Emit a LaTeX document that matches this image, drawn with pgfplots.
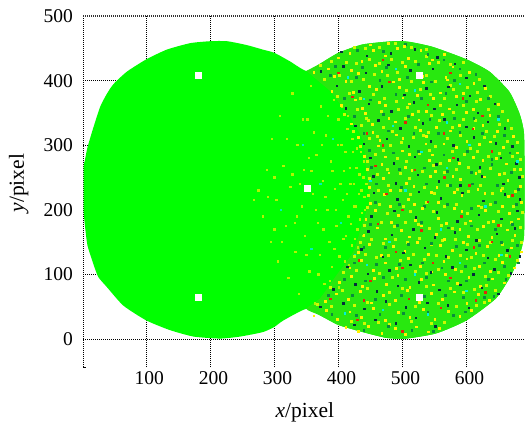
\documentclass[border=0pt]{standalone}
\usepackage{pgfplots}
\pgfplotsset{compat=1.18}
\usepackage{fontspec}
\setmainfont{Liberation Serif}
\definecolor{basegreen}{RGB}{0,255,0}
\definecolor{mixgreen}{RGB}{40,232,15}
\definecolor{sparsey}{RGB}{175,245,0}
\definecolor{sparsec}{RGB}{0,240,190}
\definecolor{darksp}{RGB}{5,45,60}
\definecolor{midsp}{RGB}{10,140,60}
\definecolor{limesp}{RGB}{205,250,0}
\definecolor{redsp}{RGB}{225,40,10}
\definecolor{cyansp}{RGB}{0,240,220}
\pgfplotsset{speck/.style 2 args={only marks,color=#1,mark=square*,mark size=#2,mark options={solid,draw=#1,fill=#1,line width=0pt}}}
\begin{document}
\begin{tikzpicture}
\path[use as bounding box] (0,0) rectangle (526pt,425pt);
\begin{axis}[at={(83pt,58pt)},anchor=south west,scale only axis,width=441pt,height=351pt,
 xmin=1,xmax=690,ymin=-43,ymax=500,clip=false,
 xtick={100,200,300,400,500,600},ytick={0,100,200,300,400,500},
 tick style={draw=none},grid=major,
 major grid style={black,line width=0.6pt,dash pattern=on 0.9pt off 1.1pt},
 axis line style={draw=none},
 /pgf/number format/assume math mode=true,
 tick label style={font=\fontsize{19.5}{20}\selectfont},
 xticklabel style={inner sep=0pt,xshift=3pt,yshift=-4pt},
 yticklabel style={inner sep=0pt,xshift=-10pt},
 xlabel={\textit{x}/pixel},ylabel={\textit{y}/pixel},
 label style={font=\fontsize{21.5}{22}\selectfont},
 xlabel style={at={(axis description cs:0.503,-0.128)},anchor=center},
 ylabel style={at={(axis description cs:-0.146,0.524)},anchor=center},
]
\addplot[black,line width=0.7pt,dash pattern=on 1pt off 1pt] coordinates {(1,-43)(1,500)};
\addplot[black!80,line width=1.2pt,dash pattern=on 1pt off 1pt] coordinates {(1,500)(690,500)};
\addplot[black,line width=0.8pt] coordinates {(1,-43)(6,-43)};
% whole outline
\addplot[fill=basegreen,draw=none,smooth,tension=0.35] coordinates {(2,230)(2,267)(4,277)(8.3,298)(17.7,329)(28,360)(38.5,380)(48.9,395)(69.7,414)(100,433)(132,448)(168.5,458)(200,461)(226,461)(257,455)(282,448)(300,443)(324,430)(350,415)(371,426)(400,443)(438,456)(485,461)(511,460)(548,452)(600,433)(636,414)(667,383)(683,349)(690,318)(691,240)(690,160)(683,130)(670,99)(646,63)(600,29)(553,9)(506,1)(475,2)(438,11)(400,22)(371,37)(350,47)(314,29)(300,19)(282,11)(246,4)(215,1)(174,4)(137,14)(100,29)(64,52)(38,81)(25,96)(18,114)(8,145)(4,176)(2,197)} --cycle;
% dense part of the right disc
\addplot[fill=mixgreen,draw=none,smooth,tension=0.35] coordinates {(350,415)(371,426)(400,443)(438,456)(485,461)(511,460)(548,452)(600,433)(636,414)(667,383)(683,349)(690,318)(691,240)(690,160)(683,130)(670,99)(646,63)(600,29)(553,9)(506,1)(475,2)(438,11)(400,22)(371,37)(350,47)(371,63)(397,99)(423,135)(438,181)(448,215)(443,267)(438,308)(418,344)(386,385)} --cycle;
% sparse specks, overlap
\addplot[speck={sparsey}{0.7pt}] table[row sep=\\] {x y\\
275 230\\282 190\\288 262\\295 150\\296 310\\303 215\\306 120\\309 345\\314 268\\318 175\\322 95\\325 235\\328 380\\333 135\\336 300\\338 70\\343 205\\346 262\\348 160\\352 340\\355 105\\357 392\\360 225\\363 55\\366 285\\368 180\\371 130\\373 360\\376 245\\378 85\\381 315\\383 200\\386 150\\388 275\\390 112\\393 370\\395 232\\397 175\\400 340\\402 128\\405 300\\407 215\\409 260\\412 160\\414 325\\416 190\\419 240\\421 145\\423 290\\425 205\\428 265\\430 170\\432 225\\435 290\\437 195\\439 250\\441 220\\
332 180\\340 240\\350 130\\354 280\\362 320\\365 200\\369 100\\374 300\\377 170\\380 220\\384 345\\387 90\\391 260\\394 140\\396 200\\399 300\\401 80\\403 240\\406 360\\408 155\\410 120\\411 290\\413 225\\415 345\\417 115\\418 265\\420 178\\422 310\\424 240\\426 155\\427 205\\429 295\\431 142\\433 255\\434 185\\436 230\\438 160\\440 275\\442 200\\444 240\\300 250\\312 150\\320 310\\328 255\\335 190\\345 340\\290 220\\268 215\\300 170\\358 260\\};
\addplot[speck={sparsec}{0.6pt}] table[row sep=\\] {x y\\
310 200\\345 300\\358 140\\372 240\\392 310\\404 180\\426 130\\};
% lime
\addplot[speck={limesp}{1pt}] table[row sep=\\] {x y\\
420 27\\441 24\\463 26\\480 22\\515 27\\546 24\\565 26\\
368 54\\390 50\\425 52\\446 57\\480 53\\520 51\\557 55\\585 50\\615 52\\628 57\\
388 80\\407 76\\445 79\\480 72\\500 78\\537 81\\575 79\\596 72\\612 77\\632 83\\645 76\\
408 103\\428 106\\465 102\\485 95\\520 104\\538 101\\557 108\\592 105\\612 109\\630 97\\650 103\\665 99\\
425 128\\443 131\\460 126\\478 130\\497 122\\517 131\\535 124\\553 129\\572 126\\590 130\\608 126\\626 130\\645 124\\662 130\\680 122\\
434 150\\452 154\\470 148\\490 155\\508 150\\527 156\\546 147\\563 152\\583 155\\601 146\\620 152\\637 150\\656 146\\672 152\\686 150\\
441 176\\467 180\\487 174\\505 181\\525 178\\543 172\\561 176\\578 171\\598 179\\617 170\\635 181\\653 176\\670 180\\685 173\\
446 203\\465 208\\477 195\\501 205\\513 197\\537 212\\549 198\\565 205\\585 208\\601 195\\623 204\\637 209\\650 198\\673 205\\687 196\\
447 222\\462 230\\478 238\\497 230\\513 224\\535 235\\550 226\\570 238\\586 232\\604 228\\622 238\\640 226\\657 233\\676 228\\
448 248\\461 255\\476 263\\497 256\\511 248\\531 260\\548 268\\565 258\\584 262\\603 265\\620 260\\637 264\\660 256\\675 262\\688 252\\
445 275\\458 285\\471 292\\492 280\\507 275\\527 288\\543 292\\560 272\\578 290\\597 286\\617 290\\634 283\\652 288\\672 282\\685 278\\
435 298\\448 310\\461 313\\482 300\\498 305\\518 312\\533 315\\551 298\\570 310\\590 315\\606 295\\629 312\\644 314\\664 306\\680 305\\
424 322\\436 330\\447 338\\470 328\\485 322\\505 342\\521 328\\540 320\\558 338\\578 328\\595 340\\614 338\\631 322\\652 332\\670 326\\
410 348\\430 355\\444 342\\468 352\\494 356\\508 358\\525 352\\545 346\\560 362\\580 350\\595 362\\616 368\\634 356\\656 352\\
398 375\\417 380\\435 372\\455 378\\472 372\\491 368\\507 384\\528 386\\544 378\\565 372\\580 386\\602 390\\618 382\\638 376\\
378 402\\402 408\\420 398\\440 402\\456 410\\477 408\\492 412\\515 398\\538 408\\552 398\\575 392\\590 408\\620 402\\
372 424\\390 430\\412 428\\428 426\\448 432\\465 426\\483 432\\500 428\\520 430\\537 438\\557 428\\575 425\\595 428\\
425 452\\442 450\\465 452\\490 458\\515 452\\537 448\\};
% mid green
\addplot[speck={midsp}{0.9pt}] table[row sep=\\] {x y\\
440 14\\478 20\\515 14\\548 12\\
390 38\\428 37\\465 38\\502 40\\540 42\\580 37\\598 42\\
385 68\\422 68\\458 62\\498 67\\534 66\\567 68\\596 64\\628 65\\643 66\\
410 92\\442 90\\470 95\\505 92\\538 95\\572 90\\600 90\\634 92\\662 92\\
425 118\\460 115\\495 115\\532 118\\562 110\\598 112\\628 118\\660 112\\682 118\\
440 142\\474 142\\510 146\\545 148\\585 143\\620 145\\655 150\\680 145\\
450 178\\492 176\\530 180\\572 172\\608 175\\645 170\\672 178\\
458 212\\496 208\\535 205\\570 208\\608 202\\645 212\\678 208\\
460 240\\498 235\\538 240\\575 238\\610 240\\648 238\\682 232\\
452 266\\495 262\\534 265\\570 260\\608 258\\640 270\\670 258\\
448 292\\486 288\\525 290\\565 285\\602 290\\640 278\\668 288\\
440 318\\478 322\\518 318\\556 318\\590 320\\625 318\\660 315\\
425 345\\470 348\\510 345\\543 340\\582 342\\612 342\\650 345\\
410 372\\450 370\\490 378\\530 372\\568 380\\600 368\\635 372\\
388 408\\428 405\\465 400\\508 405\\545 398\\582 400\\615 410\\
395 422\\438 420\\475 420\\525 425\\565 432\\590 418\\
430 446\\470 445\\505 456\\540 440\\};
% yellow
\addplot[speck={yellow}{0.9pt}] table[row sep=\\] {x y\\
412 18\\431 12\\447 20\\468 9\\489 16\\505 7\\522 19\\541 11\\558 17\\
362 36\\381 44\\399 31\\418 42\\436 33\\455 47\\473 29\\494 41\\512 34\\533 46\\551 30\\572 43\\590 35\\608 45\\
380 58\\397 70\\416 61\\434 74\\452 56\\471 68\\489 60\\508 75\\527 57\\545 71\\563 62\\582 73\\601 55\\619 69\\636 60\\
402 88\\420 97\\438 82\\457 94\\475 85\\493 99\\512 80\\530 92\\549 84\\567 100\\586 86\\604 95\\622 81\\641 93\\659 87\\
418 110\\436 122\\455 106\\473 118\\491 109\\510 125\\528 112\\546 104\\565 120\\583 108\\601 124\\620 113\\638 105\\657 119\\675 110\\
431 134\\449 147\\467 130\\486 143\\504 136\\523 150\\541 131\\559 145\\578 137\\596 149\\615 133\\633 144\\651 129\\670 141\\686 135\\
440 160\\461 172\\474 155\\499 168\\511 158\\530 175\\553 162\\566 154\\590 170\\603 159\\627 174\\640 157\\664 169\\676 161\\
443 185\\458 199\\483 180\\494 191\\520 184\\531 202\\557 187\\569 179\\593 197\\606 183\\630 199\\642 182\\667 194\\681 186\\
450 210\\472 224\\482 205\\509 216\\519 209\\545 227\\556 212\\582 202\\593 222\\619 206\\629 226\\656 205\\666 221\\686 211\\
448 235\\470 249\\481 230\\507 241\\518 236\\544 252\\554 235\\581 227\\591 247\\618 231\\628 251\\654 230\\665 246\\685 236\\
446 262\\468 270\\479 257\\505 266\\515 261\\542 277\\552 260\\579 252\\589 272\\615 256\\626 276\\652 255\\663 271\\684 263\\
441 283\\463 299\\474 282\\500 291\\511 286\\537 302\\547 285\\574 277\\584 297\\611 281\\621 301\\647 280\\658 296\\680 288\\
432 312\\454 320\\465 307\\491 316\\501 311\\528 323\\538 314\\565 302\\575 322\\601 306\\612 326\\638 305\\649 321\\674 313\\
420 333\\442 349\\453 332\\479 341\\489 336\\516 348\\526 339\\553 327\\563 347\\589 331\\600 351\\626 330\\637 346\\665 338\\
405 362\\427 370\\438 357\\464 366\\474 361\\501 373\\511 364\\538 352\\548 372\\574 356\\585 376\\611 355\\622 371\\650 363\\
390 383\\412 399\\423 382\\449 391\\459 386\\486 398\\496 389\\523 377\\533 397\\559 381\\570 401\\596 380\\612 396\\630 388\\
362 412\\384 418\\394 407\\421 416\\431 411\\458 423\\468 414\\495 402\\505 422\\531 406\\542 426\\568 405\\579 421\\605 413\\
400 435\\418 442\\437 430\\455 447\\473 438\\492 450\\510 434\\529 446\\547 432\\566 441\\
450 455\\478 458\\503 453\\};
% dark
\addplot[speck={darksp}{0.75pt}] table[row sep=\\] {x y\\
425 22\\458 30\\490 24\\521 33\\552 20\\
372 50\\408 55\\441 47\\474 58\\506 49\\539 56\\571 52\\604 48\\
392 77\\427 85\\460 74\\493 82\\526 88\\558 76\\591 84\\624 79\\650 70\\
414 112\\446 101\\480 106\\513 115\\545 103\\578 111\\611 100\\644 108\\670 102\\
436 139\\470 127\\502 133\\535 141\\568 128\\600 138\\634 126\\664 137\\684 128\\
447 167\\484 161\\517 170\\551 157\\582 165\\616 153\\648 163\\676 171\\
452 190\\488 198\\521 188\\554 196\\586 182\\620 192\\655 186\\680 198\\
456 226\\492 216\\526 228\\560 218\\594 226\\627 214\\660 224\\684 216\\
455 252\\490 241\\524 254\\557 244\\591 238\\624 252\\658 240\\683 250\\
450 280\\487 272\\520 282\\553 270\\587 278\\621 266\\654 280\\678 272\\
440 302\\476 310\\510 298\\545 306\\580 300\\612 312\\646 303\\672 298\\
427 330\\463 338\\497 326\\532 334\\566 340\\600 328\\634 336\\660 326\\
412 357\\448 364\\483 352\\518 366\\550 356\\585 362\\618 350\\645 364\\
398 392\\433 383\\468 391\\503 378\\538 388\\572 390\\606 376\\628 392\\
373 414\\408 422\\443 412\\478 424\\513 416\\548 418\\582 426\\600 404\\
405 444\\445 438\\482 442\\520 448\\555 436\\};
% red
\addplot[speck={redsp}{0.75pt}] table[row sep=\\] {x y\\
388 62\\450 90\\510 62\\575 95\\630 72\\432 122\\490 135\\548 118\\612 142\\668 128\\462 178\\530 168\\592 190\\650 176\\475 225\\540 212\\605 238\\672 222\\458 268\\520 262\\580 280\\640 290\\445 318\\505 335\\565 318\\625 345\\422 375\\480 398\\540 362\\595 372\\400 412\\470 432\\530 405\\575 412\\430 30\\500 12\\560 48\\440 60\\615 60\\500 110\\640 150\\500 200\\566 250\\470 300\\610 325\\};
% cyan
\addplot[speck={cyansp}{0.7pt}] table[row sep=\\] {x y\\
410 40\\470 45\\540 38\\600 75\\445 115\\520 100\\590 118\\655 130\\480 150\\560 170\\630 205\\505 230\\450 245\\570 265\\680 275\\530 290\\605 300\\485 330\\570 335\\650 340\\440 372\\520 385\\590 395\\415 405\\490 418\\};
% white markers
\addplot[speck={white}{3pt}] coordinates {(182,64.5)(182,408.5)(526,408.5)(527,64.5)(351.5,233.5)};
\end{axis}
\end{tikzpicture}
\end{document}
